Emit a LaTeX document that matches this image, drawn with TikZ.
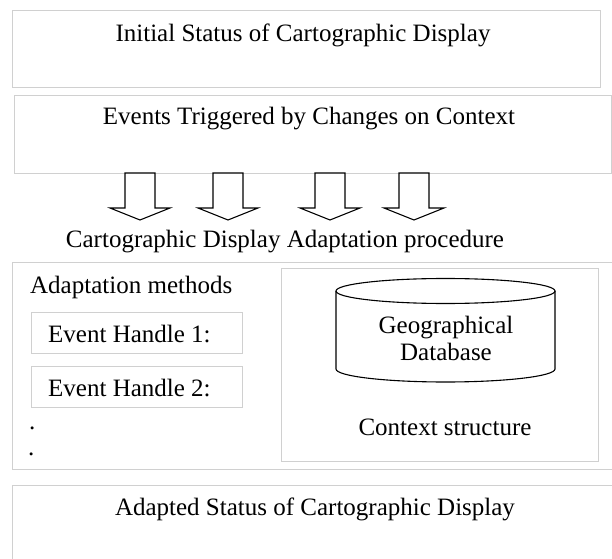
\documentclass[tikz,border=0pt]{standalone}
\usepackage{fontspec}
\setmainfont{Liberation Serif}
\definecolor{boxgray}{RGB}{208,208,208}
\begin{document}
\begin{tikzpicture}[x=1bp,y=-1bp,
  grbox/.style={draw=boxgray, line width=1.3bp, inner sep=0pt, anchor=north west},
  lbl/.style={font=\fontsize{25bp}{28bp}\selectfont, inner sep=0pt, anchor=base},
  lbll/.style={lbl, anchor=base west},
  blk/.style={draw=black, line width=1.1bp}]
\useasboundingbox (0,0) rectangle (612,559);
\fill[white] (0,0) rectangle (612,559);
% outer boxes
\node[grbox, minimum width=588bp, minimum height=77bp] (init) at (12,10) {};
\node[grbox, minimum width=597bp, minimum height=78bp] (events) at (14,95) {};
\node[grbox, minimum width=600bp, minimum height=207bp] (adapt) at (12,262) {};
\node[grbox, minimum width=317bp, minimum height=193bp] (ctx) at (281,268) {};
\node[grbox, minimum width=600bp, minimum height=90bp] (final) at (12,485) {};
\node[grbox, minimum width=211bp, minimum height=41bp] (eh1) at (31,312) {};
\node[grbox, minimum width=211bp, minimum height=41bp] (eh2) at (31,366) {};
% texts
\node[lbl] (tinit) at (303,42) {Initial Status of Cartographic Display};
\node[lbl] (tevents) at (309,125) {Events Triggered by Changes on Context};
\node[lbl] (tproc) at (285,247) {Cartographic Display Adaptation procedure};
\node[lbll] (tmeth) at (30,293) {Adaptation methods};
\node[lbll] (teh1) at (48,342) {Event Handle 1:};
\node[lbll] (teh2) at (48,396) {Event Handle 2:};
\node[lbll] (dot1) at (29,429) {.};
\node[lbll] (dot2) at (28,455) {.};
\node[lbl] (tgeo) at (446,333) {Geographical};
\node[lbl] (tdb) at (446,360) {Database};
\node[lbl] (tctx) at (445,435) {Context structure};
\node[lbl] (tfinal) at (315,515) {Adapted Status of Cartographic Display};
% hollow block arrows
\foreach \c in {140,228,330,414}{
  \draw[blk, fill=white, line join=miter] ({\c-15},173) -- ({\c+15},173) -- ({\c+15},208)
    -- ({\c+30},208) -- (\c,220) -- ({\c-30},208) -- ({\c-15},208) -- cycle;
}
% database cylinder
\draw[blk] (445.5,291) ellipse [x radius=109.5, y radius=12.5];
\draw[blk] (336,291) -- (336,369) arc[start angle=180, end angle=0, x radius=109.5, y radius=13] -- (555,291);
\end{tikzpicture}
\end{document}
